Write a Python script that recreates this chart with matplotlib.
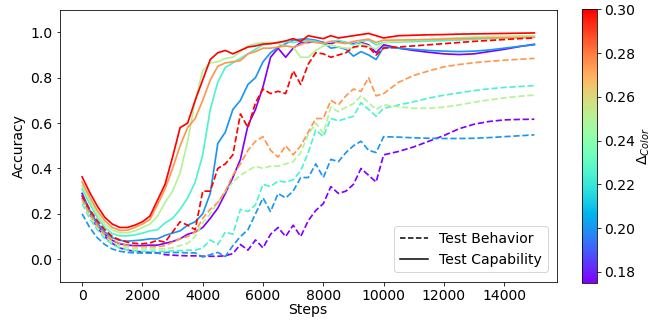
import numpy as np
import matplotlib
matplotlib.use("Agg")
import matplotlib.pyplot as plt
from matplotlib.lines import Line2D

# training steps: dense until 10000, then coarser tail
steps = list(range(0, 10001, 250)) + list(range(10500, 15001, 500))

deltas = [0.175, 0.2, 0.225, 0.25, 0.275, 0.3]

# test capability (solid)
cap_purple = [0.29, 0.215, 0.155, 0.11, 0.083, 0.068, 0.062, 0.06, 0.06, 0.062,
              0.062, 0.07, 0.078, 0.09, 0.11, 0.12, 0.14, 0.18, 0.225, 0.29,
              0.36, 0.44, 0.59, 0.66, 0.76, 0.89, 0.93, 0.89, 0.93, 0.955,
              0.955, 0.96, 0.955, 0.95, 0.96, 0.955, 0.95, 0.955, 0.945, 0.91, 0.945,
              0.93, 0.92, 0.912, 0.905, 0.902, 0.905, 0.915, 0.925, 0.937, 0.947]
cap_blue = [0.28, 0.215, 0.16, 0.12, 0.095, 0.083, 0.08, 0.082, 0.085, 0.09,
            0.09, 0.105, 0.115, 0.125, 0.15, 0.165, 0.20, 0.29, 0.51, 0.56,
            0.66, 0.70, 0.77, 0.80, 0.87, 0.91, 0.935, 0.95, 0.965, 0.97,
            0.97, 0.965, 0.955, 0.93, 0.935, 0.925, 0.895, 0.915, 0.90, 0.88, 0.935,
            0.93, 0.925, 0.92, 0.917, 0.915, 0.917, 0.922, 0.93, 0.938, 0.945]
cap_cyan = [0.31, 0.245, 0.185, 0.14, 0.113, 0.103, 0.103, 0.107, 0.115, 0.125,
            0.13, 0.16, 0.18, 0.22, 0.27, 0.34, 0.46, 0.66, 0.78, 0.845,
            0.865, 0.885, 0.905, 0.925, 0.945, 0.95, 0.955, 0.96, 0.955, 0.96,
            0.965, 0.96, 0.95, 0.96, 0.965, 0.955, 0.945, 0.96, 0.965, 0.945, 0.955,
            0.957, 0.959, 0.961, 0.963, 0.966, 0.969, 0.972, 0.975, 0.977, 0.978]
cap_green = [0.325, 0.26, 0.20, 0.155, 0.128, 0.117, 0.117, 0.125, 0.14, 0.155,
             0.19, 0.25, 0.30, 0.38, 0.52, 0.70, 0.83, 0.865, 0.87, 0.885,
             0.89, 0.915, 0.94, 0.95, 0.955, 0.955, 0.95, 0.94, 0.935, 0.89,
             0.89, 0.92, 0.94, 0.945, 0.935, 0.93, 0.93, 0.95, 0.94, 0.925, 0.955,
             0.96, 0.965, 0.969, 0.973, 0.976, 0.979, 0.981, 0.983, 0.984, 0.985]
cap_orange = [0.34, 0.275, 0.215, 0.17, 0.14, 0.127, 0.128, 0.14, 0.155, 0.175,
              0.24, 0.31, 0.40, 0.50, 0.58, 0.62, 0.70, 0.79, 0.85, 0.865,
              0.87, 0.875, 0.905, 0.915, 0.93, 0.93, 0.935, 0.94, 0.935, 0.945,
              0.96, 0.955, 0.95, 0.96, 0.955, 0.95, 0.96, 0.965, 0.97, 0.955, 0.965,
              0.966, 0.967, 0.968, 0.97, 0.972, 0.974, 0.975, 0.976, 0.977, 0.978]
cap_red = [0.363, 0.295, 0.235, 0.185, 0.155, 0.14, 0.14, 0.15, 0.165, 0.19,
           0.26, 0.33, 0.45, 0.58, 0.60, 0.70, 0.79, 0.88, 0.91, 0.92,
           0.905, 0.92, 0.935, 0.94, 0.948, 0.95, 0.955, 0.962, 0.972, 0.96,
           0.985, 0.978, 0.972, 0.985, 0.975, 0.98, 0.985, 0.99, 0.995, 0.985, 0.975,
           0.985, 0.987, 0.989, 0.99, 0.992, 0.993, 0.994, 0.995, 0.996, 0.997]

# test behavior (dashed)
beh_purple = [0.27, 0.20, 0.14, 0.10, 0.07, 0.05, 0.04, 0.035, 0.032, 0.03,
              0.028, 0.02, 0.018, 0.016, 0.015, 0.015, 0.013, 0.013, 0.013, 0.015,
              0.025, 0.065, 0.04, 0.085, 0.05, 0.11, 0.14, 0.10, 0.15, 0.10,
              0.17, 0.215, 0.245, 0.32, 0.29, 0.30, 0.33, 0.40, 0.37, 0.34, 0.46,
              0.475, 0.495, 0.52, 0.545, 0.575, 0.595, 0.607, 0.614, 0.616, 0.617]
beh_blue = [0.2, 0.14, 0.095, 0.065, 0.045, 0.035, 0.03, 0.028, 0.027, 0.027,
            0.027, 0.03, 0.03, 0.03, 0.028, 0.028, 0.01, 0.02, 0.03, 0.012,
            0.06, 0.10, 0.13, 0.20, 0.27, 0.21, 0.29, 0.27, 0.30, 0.36,
            0.36, 0.42, 0.36, 0.44, 0.43, 0.47, 0.50, 0.52, 0.48, 0.47, 0.54,
            0.538, 0.535, 0.533, 0.532, 0.532, 0.533, 0.536, 0.54, 0.544, 0.548]
beh_cyan = [0.245, 0.18, 0.13, 0.09, 0.065, 0.05, 0.04, 0.037, 0.035, 0.035,
            0.035, 0.035, 0.037, 0.038, 0.04, 0.04, 0.05, 0.085, 0.065, 0.12,
            0.11, 0.22, 0.21, 0.24, 0.33, 0.32, 0.345, 0.34, 0.35, 0.39,
            0.47, 0.57, 0.54, 0.62, 0.61, 0.62, 0.63, 0.69, 0.66, 0.63, 0.665,
            0.68, 0.694, 0.71, 0.723, 0.733, 0.743, 0.751, 0.757, 0.761, 0.765]
beh_green = [0.255, 0.19, 0.14, 0.10, 0.075, 0.06, 0.05, 0.045, 0.045, 0.045,
             0.045, 0.047, 0.05, 0.06, 0.07, 0.10, 0.16, 0.20, 0.25, 0.30,
             0.34, 0.37, 0.39, 0.41, 0.40, 0.41, 0.41, 0.42, 0.43, 0.47,
             0.55, 0.60, 0.555, 0.67, 0.65, 0.67, 0.685, 0.72, 0.69, 0.66, 0.68,
             0.672, 0.665, 0.665, 0.67, 0.68, 0.692, 0.702, 0.711, 0.718, 0.723]
beh_orange = [0.265, 0.20, 0.15, 0.11, 0.085, 0.07, 0.06, 0.055, 0.055, 0.055,
              0.055, 0.06, 0.075, 0.09, 0.10, 0.12, 0.18, 0.22, 0.25, 0.30,
              0.37, 0.42, 0.48, 0.52, 0.54, 0.48, 0.45, 0.50, 0.46, 0.50,
              0.56, 0.62, 0.62, 0.70, 0.68, 0.72, 0.75, 0.74, 0.80, 0.72, 0.73,
              0.78, 0.81, 0.83, 0.848, 0.858, 0.866, 0.872, 0.877, 0.881, 0.885]
beh_red = [0.28, 0.22, 0.17, 0.13, 0.10, 0.085, 0.075, 0.07, 0.068, 0.072,
           0.083, 0.075, 0.12, 0.165, 0.15, 0.13, 0.30, 0.30, 0.40, 0.42,
           0.46, 0.64, 0.58, 0.69, 0.75, 0.73, 0.74, 0.73, 0.83, 0.77,
           0.86, 0.91, 0.905, 0.89, 0.90, 0.91, 0.935, 0.94, 0.935, 0.90, 0.93,
           0.935, 0.94, 0.945, 0.95, 0.955, 0.96, 0.964, 0.968, 0.972, 0.975]

capability = [cap_purple, cap_blue, cap_cyan, cap_green, cap_orange, cap_red]
behavior = [beh_purple, beh_blue, beh_cyan, beh_green, beh_orange, beh_red]

plt.rcParams['font.size'] = 14
fig = plt.figure(figsize=(651 / 72, 320 / 72), dpi=72)
ax = fig.add_axes([0.0914, 0.119, 0.7642, 0.851])
cax = fig.add_axes([0.8945, 0.1166, 0.0221, 0.854])

cmap = plt.cm.rainbow
norm = matplotlib.colors.Normalize(vmin=0.175, vmax=0.30)

for d, cap, beh in zip(deltas, capability, behavior):
    c = cmap(norm(d))
    ax.plot(steps, beh, '--', color=c, lw=1.7)
    ax.plot(steps, cap, '-', color=c, lw=1.7)

ax.set_ylim(-0.1, 1.1)
ax.set_xticks(range(0, 14001, 2000))
ax.set_yticks([0.0, 0.2, 0.4, 0.6, 0.8, 1.0])
ax.set_xlabel('Steps', labelpad=0)
ax.set_ylabel('Accuracy')

handles = [Line2D([], [], color='black', ls='--', lw=1.5),
           Line2D([], [], color='black', ls='-', lw=1.5)]
ax.legend(handles, ['Test Behavior', 'Test Capability'], loc='lower right',
          bbox_to_anchor=(0.995, 0.01))

sm = matplotlib.cm.ScalarMappable(norm=norm, cmap=cmap)
cb = fig.colorbar(sm, cax=cax)
cb.set_ticks([0.18, 0.20, 0.22, 0.24, 0.26, 0.28, 0.30])
cb.set_ticklabels(['0.18', '0.20', '0.22', '0.24', '0.26', '0.28', '0.30'])
cb.set_label(r'$\Delta_{Color}$', labelpad=1)

fig.savefig('out.png', dpi=72)
